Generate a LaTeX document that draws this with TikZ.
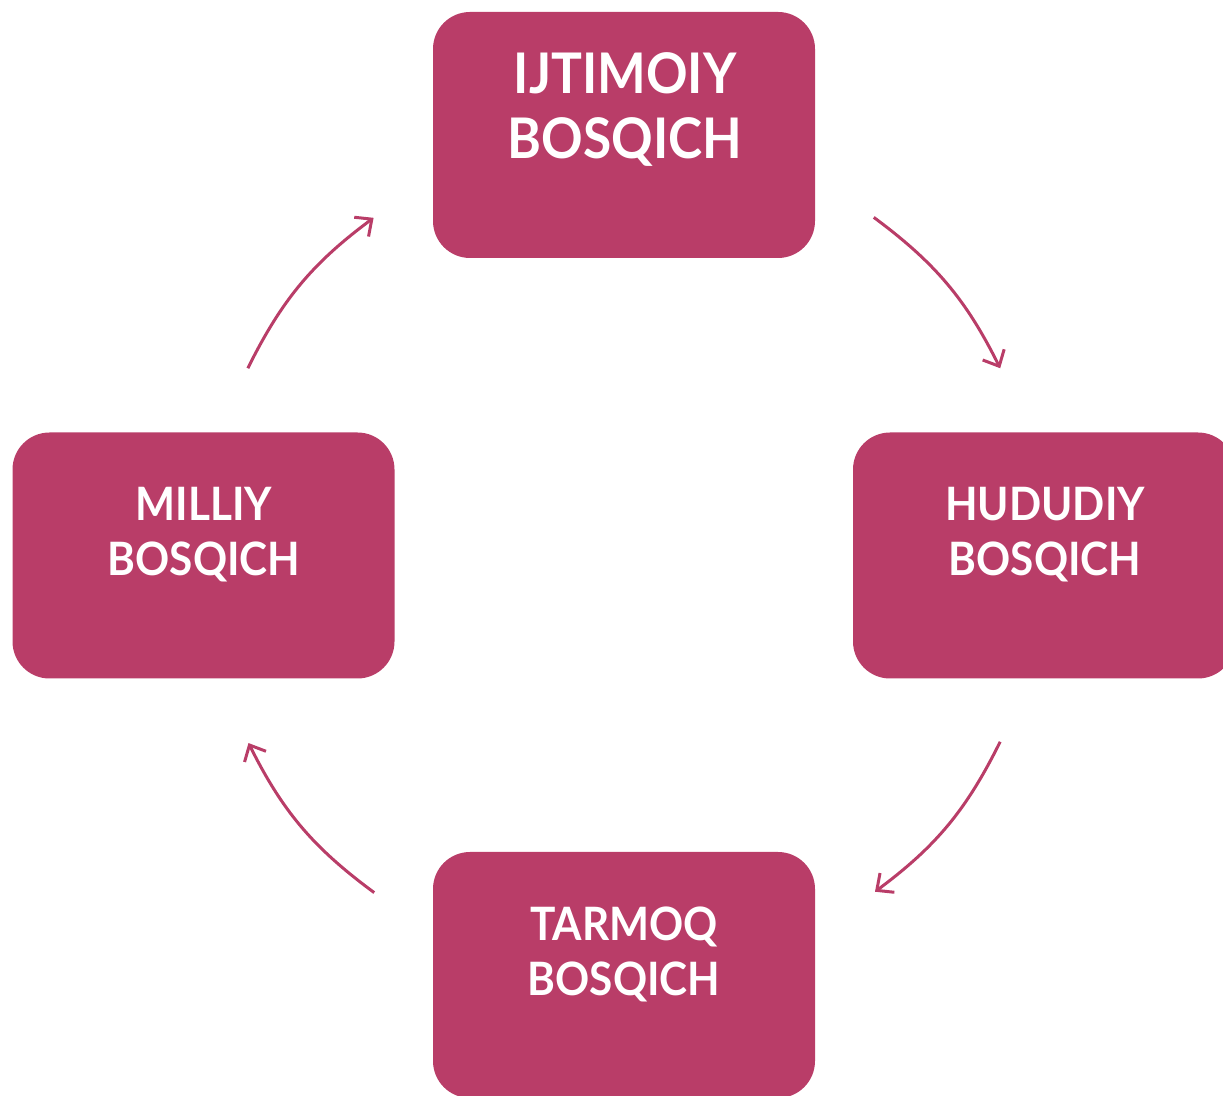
\documentclass[tikz,border=0pt]{standalone}
\usepackage{fontspec}
\setmainfont{Lato}[UprightFont=* Bold, FakeStretch=0.92]
\usetikzlibrary{arrows.meta,calc}
\definecolor{berry}{HTML}{B93D68}
\tikzset{
  stagebox/.style={fill=berry, draw=none, rounded corners=37pt, minimum width=382pt, minimum height=246pt, inner sep=0pt, anchor=center},
  biglbl/.style={text=white, align=center, inner sep=0pt, anchor=north, font=\fontsize{56}{65}\selectfont},
  lbl/.style={text=white, align=center, inner sep=0pt, anchor=north, font=\fontsize{46}{55}\selectfont},
  cyc/.style={draw=berry, line width=3pt, -{Straight Barb[length=13pt,width=24pt,line width=3pt]}, bend left=13.5}
}
\begin{document}
\begin{tikzpicture}[x=1pt,y=1pt]
\useasboundingbox (0,0) rectangle (1223,1095);
\clip (0,0) rectangle (1223,1095);
% boxes (y measured from bottom)
\node[stagebox] (top) at (624,960) {};
\node[stagebox] (left) at (203.5,539.5) {};
\node[stagebox] (right) at (1044,539.5) {};
\node[stagebox] (bottom) at (624,120) {};
% labels
\node[biglbl] (ttop) at (625,1043) {IJTIMOIY\\BOSQICH};
\node[lbl] (tleft) at (204,608) {MILLIY\\BOSQICH};
\node[lbl] (tright) at (1045,608) {HUDUDIY\\BOSQICH};
\node[lbl] (tbottom) at (624,188) {TARMOQ\\BOSQICH};
% cycle arrows on a circle around the centre
\coordinate (c) at (624,540);
\coordinate (a1s) at ($(c)+(53.5:420)$);
\coordinate (a1e) at ($(c)+(26.4:420)$);
\coordinate (a2s) at ($(c)+(-26.4:420)$);
\coordinate (a2e) at ($(c)+(-53.3:420)$);
\coordinate (a3s) at ($(c)+(-126.5:420)$);
\coordinate (a3e) at ($(c)+(-153.4:420)$);
\coordinate (a4s) at ($(c)+(153.6:420)$);
\coordinate (a4e) at ($(c)+(126.6:420)$);
\draw[cyc] (a1s) to (a1e);
\draw[cyc] (a2s) to (a2e);
\draw[cyc] (a3s) to (a3e);
\draw[cyc] (a4s) to (a4e);
\end{tikzpicture}
\end{document}
